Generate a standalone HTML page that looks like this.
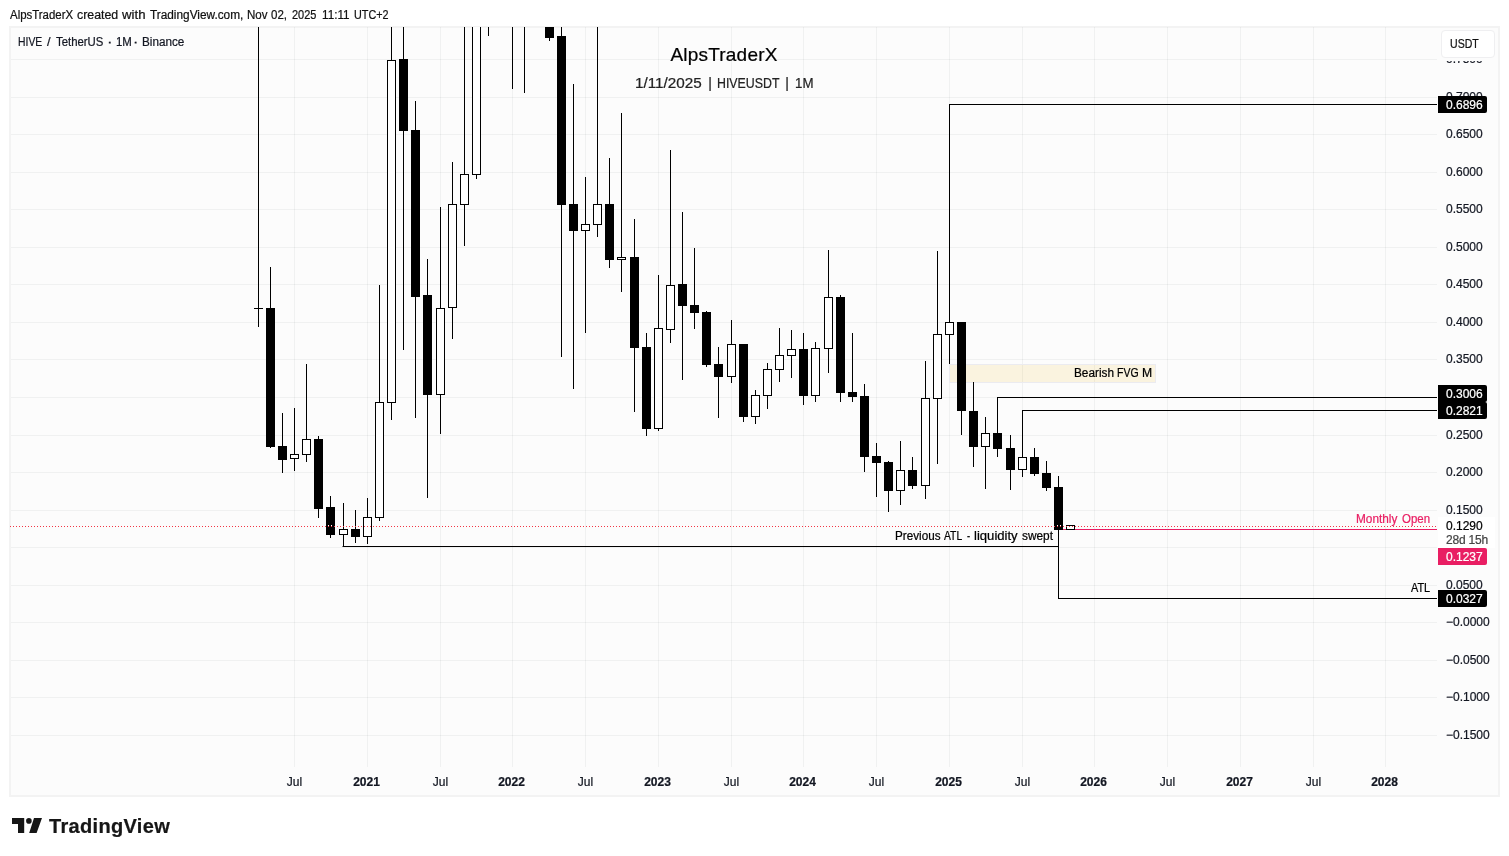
<!DOCTYPE html>
<html lang="en"><head><meta charset="utf-8"><title>HIVEUSDT 1M - AlpsTraderX</title>
<style>
html,body{margin:0;padding:0;background:#fff}
body{width:1509px;height:856px;position:relative;overflow:hidden;font-family:"Liberation Sans",sans-serif;font-size:12px;color:#131722;-webkit-text-stroke:0.22px currentColor}
#hdr{position:absolute;left:0;top:8px;height:14px;line-height:14px;white-space:nowrap;font-size:12px;color:#111;letter-spacing:0px}
#panel{position:absolute;left:9px;top:26px;width:1491px;height:771px;box-sizing:border-box;background:#fcfcfc;border:2px solid #f3f3f3}
#chart{position:absolute;left:0;top:0;width:1509px;height:856px;overflow:hidden}
#clip{position:absolute;left:11px;top:27px;width:1426px;height:740px;overflow:hidden}
#clip>div{position:absolute;left:-11px;top:-27px}
i{position:absolute;display:block}
.g{background:rgba(42,46,57,0.055)}
.k{background:#000}
.h{background:#fff;border:1px solid #000;box-sizing:border-box}
.pl{position:absolute;left:1446px;height:16px;line-height:16px;font-size:12px;white-space:nowrap;color:#131722}
.tl{position:absolute;top:774px;width:61px;text-align:center;height:16px;line-height:16px;font-size:12px;color:#131722;white-space:nowrap}
.tl.b{font-weight:bold;margin-left:-1px}
.tag{position:absolute;left:1438px;width:49px;height:17px;line-height:19px;overflow:hidden;box-sizing:border-box;padding-left:8px;color:#fff;background:#000;border-radius:0 2px 2px 0;font-size:12px;white-space:nowrap}
.txt{position:absolute;white-space:nowrap;line-height:14px;height:14px;font-size:12px;color:#000}
#legend{position:absolute;left:0;top:35px;height:14px;line-height:14px;font-size:12px;color:#131722;white-space:nowrap}
#usdt{position:absolute;left:1440.6px;top:30.4px;width:54.8px;height:27.2px;box-sizing:border-box;border:1px solid #efeff1;border-radius:4px;background:#fff;text-align:left;padding-left:8.6px;line-height:26.4px;font-size:12px;color:#111}
#usdt span{display:inline-block;transform:scaleX(0.88);transform-origin:0 50%}
#title{position:absolute;left:524px;width:400px;text-align:center;top:43px;height:24px;line-height:24px;font-size:19px;color:#000;white-space:nowrap;letter-spacing:0.2px}
#sub{position:absolute;left:0;top:75px;height:16px;line-height:16px;font-size:14px;color:#222;white-space:nowrap}
#sub span,.wl span{position:absolute;top:0;transform-origin:0 50%;white-space:nowrap}
#logo{position:absolute;left:12px;top:814px}
#tv{position:absolute;left:49px;top:813px;height:26px;line-height:26px;font-size:20px;font-weight:bold;color:#161616;white-space:nowrap;letter-spacing:0.33px}
</style></head><body>
<div id="hdr" class="wl"><span style="left:10.22px;transform:scaleX(0.953)">AlpsTraderX</span> <span style="left:77.08px;transform:scaleX(1.029)">created</span> <span style="left:122.15px;transform:scaleX(1.1)">with</span> <span style="left:149.51px;transform:scaleX(0.985)">TradingView.com,</span> <span style="left:247.04px;transform:scaleX(0.961)">Nov</span> <span style="left:271.31px;transform:scaleX(0.961)">02,</span> <span style="left:292.18px;transform:scaleX(0.913)">2025</span> <span style="left:321.52px;transform:scaleX(0.975)">11:11</span> <span style="left:353.8px;transform:scaleX(0.899)">UTC+2</span></div>
<div id="panel"></div>
<div id="chart">
<i class="g" style="left:11px;top:59px;width:1426px;height:1px"></i><i class="g" style="left:11px;top:97px;width:1426px;height:1px"></i><i class="g" style="left:11px;top:134px;width:1426px;height:1px"></i><i class="g" style="left:11px;top:172px;width:1426px;height:1px"></i><i class="g" style="left:11px;top:209px;width:1426px;height:1px"></i><i class="g" style="left:11px;top:247px;width:1426px;height:1px"></i><i class="g" style="left:11px;top:284px;width:1426px;height:1px"></i><i class="g" style="left:11px;top:322px;width:1426px;height:1px"></i><i class="g" style="left:11px;top:359px;width:1426px;height:1px"></i><i class="g" style="left:11px;top:397px;width:1426px;height:1px"></i><i class="g" style="left:11px;top:435px;width:1426px;height:1px"></i><i class="g" style="left:11px;top:472px;width:1426px;height:1px"></i><i class="g" style="left:11px;top:510px;width:1426px;height:1px"></i><i class="g" style="left:11px;top:547px;width:1426px;height:1px"></i><i class="g" style="left:11px;top:585px;width:1426px;height:1px"></i><i class="g" style="left:11px;top:622px;width:1426px;height:1px"></i><i class="g" style="left:11px;top:660px;width:1426px;height:1px"></i><i class="g" style="left:11px;top:697px;width:1426px;height:1px"></i><i class="g" style="left:11px;top:735px;width:1426px;height:1px"></i><i class="g" style="left:294px;top:27px;width:1px;height:740px"></i><i class="g" style="left:367px;top:27px;width:1px;height:740px"></i><i class="g" style="left:440px;top:27px;width:1px;height:740px"></i><i class="g" style="left:512px;top:27px;width:1px;height:740px"></i><i class="g" style="left:585px;top:27px;width:1px;height:740px"></i><i class="g" style="left:658px;top:27px;width:1px;height:740px"></i><i class="g" style="left:731px;top:27px;width:1px;height:740px"></i><i class="g" style="left:803px;top:27px;width:1px;height:740px"></i><i class="g" style="left:876px;top:27px;width:1px;height:740px"></i><i class="g" style="left:949px;top:27px;width:1px;height:740px"></i><i class="g" style="left:1022px;top:27px;width:1px;height:740px"></i><i class="g" style="left:1094px;top:27px;width:1px;height:740px"></i><i class="g" style="left:1167px;top:27px;width:1px;height:740px"></i><i class="g" style="left:1240px;top:27px;width:1px;height:740px"></i><i class="g" style="left:1313px;top:27px;width:1px;height:740px"></i><i class="g" style="left:1385px;top:27px;width:1px;height:740px"></i>
<i style="left:949px;top:364px;width:207px;height:19px;background:rgba(240,180,20,0.12);background-clip:padding-box;border:1px solid #ebebf0;box-sizing:border-box"></i>
<i style="left:1063px;top:529px;width:374px;height:1px;background:#e91e63"></i>
<div id="clip"><div>
<i class="k" style="left:258px;top:27px;width:1px;height:300px"></i>
<i class="k" style="left:254px;top:308px;width:9px;height:1px"></i>
<i class="k" style="left:270px;top:267px;width:1px;height:181px"></i>
<i class="k" style="left:266px;top:308px;width:9px;height:139px"></i>
<i class="k" style="left:282px;top:413px;width:1px;height:60px"></i>
<i class="k" style="left:278px;top:446px;width:9px;height:14px"></i>
<i class="k" style="left:294px;top:408px;width:1px;height:46px"></i>
<i class="k" style="left:294px;top:459px;width:1px;height:12px"></i>
<i class="h" style="left:290px;top:454px;width:9px;height:5px"></i>
<i class="k" style="left:306px;top:364px;width:1px;height:75px"></i>
<i class="k" style="left:306px;top:455px;width:1px;height:7px"></i>
<i class="h" style="left:302px;top:439px;width:9px;height:16px"></i>
<i class="k" style="left:318px;top:436px;width:1px;height:82px"></i>
<i class="k" style="left:314px;top:439px;width:9px;height:70px"></i>
<i class="k" style="left:330px;top:496px;width:1px;height:42px"></i>
<i class="k" style="left:326px;top:507px;width:9px;height:28px"></i>
<i class="k" style="left:343px;top:503px;width:1px;height:26px"></i>
<i class="k" style="left:343px;top:535px;width:1px;height:11px"></i>
<i class="h" style="left:339px;top:529px;width:9px;height:6px"></i>
<i class="k" style="left:355px;top:510px;width:1px;height:33px"></i>
<i class="k" style="left:351px;top:529px;width:9px;height:8px"></i>
<i class="k" style="left:367px;top:498px;width:1px;height:19px"></i>
<i class="k" style="left:367px;top:537px;width:1px;height:7px"></i>
<i class="h" style="left:363px;top:517px;width:9px;height:20px"></i>
<i class="k" style="left:379px;top:285px;width:1px;height:117px"></i>
<i class="k" style="left:379px;top:518px;width:1px;height:3px"></i>
<i class="h" style="left:375px;top:402px;width:9px;height:116px"></i>
<i class="k" style="left:391px;top:27px;width:1px;height:33px"></i>
<i class="k" style="left:391px;top:403px;width:1px;height:17px"></i>
<i class="h" style="left:387px;top:60px;width:9px;height:343px"></i>
<i class="k" style="left:403px;top:27px;width:1px;height:323px"></i>
<i class="k" style="left:399px;top:59px;width:9px;height:72px"></i>
<i class="k" style="left:415px;top:101px;width:1px;height:317px"></i>
<i class="k" style="left:411px;top:130px;width:9px;height:167px"></i>
<i class="k" style="left:427px;top:259px;width:1px;height:239px"></i>
<i class="k" style="left:423px;top:295px;width:9px;height:100px"></i>
<i class="k" style="left:440px;top:207px;width:1px;height:101px"></i>
<i class="k" style="left:440px;top:395px;width:1px;height:39px"></i>
<i class="h" style="left:436px;top:308px;width:9px;height:87px"></i>
<i class="k" style="left:452px;top:162px;width:1px;height:42px"></i>
<i class="k" style="left:452px;top:308px;width:1px;height:31px"></i>
<i class="h" style="left:448px;top:204px;width:9px;height:104px"></i>
<i class="k" style="left:464px;top:27px;width:1px;height:147px"></i>
<i class="k" style="left:464px;top:205px;width:1px;height:41px"></i>
<i class="h" style="left:460px;top:174px;width:9px;height:31px"></i>
<i class="k" style="left:476px;top:175px;width:1px;height:4px"></i>
<i class="h" style="left:472px;top:24px;width:9px;height:151px"></i>
<i class="k" style="left:488px;top:27px;width:1px;height:9px"></i>
<i class="k" style="left:512px;top:27px;width:1px;height:62px"></i>
<i class="k" style="left:524px;top:27px;width:1px;height:66px"></i>
<i class="k" style="left:549px;top:27px;width:1px;height:14px"></i>
<i class="k" style="left:545px;top:27px;width:9px;height:11px"></i>
<i class="k" style="left:561px;top:27px;width:1px;height:330px"></i>
<i class="k" style="left:557px;top:36px;width:9px;height:169px"></i>
<i class="k" style="left:573px;top:84px;width:1px;height:305px"></i>
<i class="k" style="left:569px;top:204px;width:9px;height:27px"></i>
<i class="k" style="left:585px;top:177px;width:1px;height:47px"></i>
<i class="k" style="left:585px;top:231px;width:1px;height:102px"></i>
<i class="h" style="left:581px;top:224px;width:9px;height:7px"></i>
<i class="k" style="left:597px;top:27px;width:1px;height:177px"></i>
<i class="k" style="left:597px;top:225px;width:1px;height:12px"></i>
<i class="h" style="left:593px;top:204px;width:9px;height:21px"></i>
<i class="k" style="left:609px;top:158px;width:1px;height:110px"></i>
<i class="k" style="left:605px;top:204px;width:9px;height:56px"></i>
<i class="k" style="left:621px;top:113px;width:1px;height:144px"></i>
<i class="k" style="left:621px;top:260px;width:1px;height:32px"></i>
<i class="h" style="left:617px;top:257px;width:9px;height:3px"></i>
<i class="k" style="left:634px;top:219px;width:1px;height:193px"></i>
<i class="k" style="left:630px;top:257px;width:9px;height:91px"></i>
<i class="k" style="left:646px;top:333px;width:1px;height:103px"></i>
<i class="k" style="left:642px;top:347px;width:9px;height:82px"></i>
<i class="k" style="left:658px;top:275px;width:1px;height:53px"></i>
<i class="k" style="left:658px;top:429px;width:1px;height:2px"></i>
<i class="h" style="left:654px;top:328px;width:9px;height:101px"></i>
<i class="k" style="left:670px;top:150px;width:1px;height:135px"></i>
<i class="k" style="left:670px;top:330px;width:1px;height:13px"></i>
<i class="h" style="left:666px;top:285px;width:9px;height:45px"></i>
<i class="k" style="left:682px;top:212px;width:1px;height:168px"></i>
<i class="k" style="left:678px;top:284px;width:9px;height:22px"></i>
<i class="k" style="left:694px;top:248px;width:1px;height:81px"></i>
<i class="k" style="left:690px;top:305px;width:9px;height:8px"></i>
<i class="k" style="left:706px;top:311px;width:1px;height:56px"></i>
<i class="k" style="left:702px;top:312px;width:9px;height:53px"></i>
<i class="k" style="left:718px;top:347px;width:1px;height:71px"></i>
<i class="k" style="left:714px;top:364px;width:9px;height:13px"></i>
<i class="k" style="left:731px;top:320px;width:1px;height:24px"></i>
<i class="k" style="left:731px;top:377px;width:1px;height:6px"></i>
<i class="h" style="left:727px;top:344px;width:9px;height:33px"></i>
<i class="k" style="left:743px;top:344px;width:1px;height:78px"></i>
<i class="k" style="left:739px;top:344px;width:9px;height:73px"></i>
<i class="k" style="left:755px;top:390px;width:1px;height:5px"></i>
<i class="k" style="left:755px;top:417px;width:1px;height:7px"></i>
<i class="h" style="left:751px;top:395px;width:9px;height:22px"></i>
<i class="k" style="left:767px;top:363px;width:1px;height:6px"></i>
<i class="k" style="left:767px;top:396px;width:1px;height:13px"></i>
<i class="h" style="left:763px;top:369px;width:9px;height:27px"></i>
<i class="k" style="left:779px;top:328px;width:1px;height:27px"></i>
<i class="k" style="left:779px;top:370px;width:1px;height:12px"></i>
<i class="h" style="left:775px;top:355px;width:9px;height:15px"></i>
<i class="k" style="left:791px;top:330px;width:1px;height:19px"></i>
<i class="k" style="left:791px;top:356px;width:1px;height:22px"></i>
<i class="h" style="left:787px;top:349px;width:9px;height:7px"></i>
<i class="k" style="left:803px;top:333px;width:1px;height:72px"></i>
<i class="k" style="left:799px;top:349px;width:9px;height:47px"></i>
<i class="k" style="left:815px;top:342px;width:1px;height:6px"></i>
<i class="k" style="left:815px;top:396px;width:1px;height:6px"></i>
<i class="h" style="left:811px;top:348px;width:9px;height:48px"></i>
<i class="k" style="left:828px;top:250px;width:1px;height:47px"></i>
<i class="k" style="left:828px;top:349px;width:1px;height:24px"></i>
<i class="h" style="left:824px;top:297px;width:9px;height:52px"></i>
<i class="k" style="left:840px;top:295px;width:1px;height:107px"></i>
<i class="k" style="left:836px;top:297px;width:9px;height:96px"></i>
<i class="k" style="left:852px;top:333px;width:1px;height:69px"></i>
<i class="k" style="left:848px;top:392px;width:9px;height:5px"></i>
<i class="k" style="left:864px;top:384px;width:1px;height:88px"></i>
<i class="k" style="left:860px;top:396px;width:9px;height:61px"></i>
<i class="k" style="left:876px;top:443px;width:1px;height:54px"></i>
<i class="k" style="left:872px;top:456px;width:9px;height:7px"></i>
<i class="k" style="left:888px;top:461px;width:1px;height:51px"></i>
<i class="k" style="left:884px;top:462px;width:9px;height:29px"></i>
<i class="k" style="left:900px;top:441px;width:1px;height:29px"></i>
<i class="k" style="left:900px;top:491px;width:1px;height:14px"></i>
<i class="h" style="left:896px;top:470px;width:9px;height:21px"></i>
<i class="k" style="left:912px;top:457px;width:1px;height:32px"></i>
<i class="k" style="left:908px;top:470px;width:9px;height:16px"></i>
<i class="k" style="left:925px;top:361px;width:1px;height:37px"></i>
<i class="k" style="left:925px;top:486px;width:1px;height:13px"></i>
<i class="h" style="left:921px;top:398px;width:9px;height:88px"></i>
<i class="k" style="left:937px;top:251px;width:1px;height:83px"></i>
<i class="k" style="left:937px;top:399px;width:1px;height:65px"></i>
<i class="h" style="left:933px;top:334px;width:9px;height:65px"></i>
<i class="k" style="left:949px;top:104px;width:1px;height:218px"></i>
<i class="k" style="left:949px;top:335px;width:1px;height:29px"></i>
<i class="h" style="left:945px;top:322px;width:9px;height:13px"></i>
<i class="k" style="left:961px;top:322px;width:1px;height:113px"></i>
<i class="k" style="left:957px;top:322px;width:9px;height:89px"></i>
<i class="k" style="left:973px;top:382px;width:1px;height:85px"></i>
<i class="k" style="left:969px;top:411px;width:9px;height:36px"></i>
<i class="k" style="left:985px;top:417px;width:1px;height:16px"></i>
<i class="k" style="left:985px;top:447px;width:1px;height:42px"></i>
<i class="h" style="left:981px;top:433px;width:9px;height:14px"></i>
<i class="k" style="left:997px;top:397px;width:1px;height:60px"></i>
<i class="k" style="left:993px;top:433px;width:9px;height:16px"></i>
<i class="k" style="left:1010px;top:435px;width:1px;height:55px"></i>
<i class="k" style="left:1006px;top:448px;width:9px;height:22px"></i>
<i class="k" style="left:1022px;top:410px;width:1px;height:47px"></i>
<i class="k" style="left:1022px;top:470px;width:1px;height:7px"></i>
<i class="h" style="left:1018px;top:457px;width:9px;height:13px"></i>
<i class="k" style="left:1034px;top:448px;width:1px;height:28px"></i>
<i class="k" style="left:1030px;top:457px;width:9px;height:17px"></i>
<i class="k" style="left:1046px;top:461px;width:1px;height:30px"></i>
<i class="k" style="left:1042px;top:473px;width:9px;height:15px"></i>
<i class="k" style="left:1058px;top:476px;width:1px;height:122px"></i>
<i class="k" style="left:1054px;top:487px;width:9px;height:43px"></i>
<i class="h" style="left:1066px;top:525px;width:9px;height:5px"></i>
</div></div>
<i class="k" style="left:949px;top:104px;width:488px;height:1px"></i>
<i class="k" style="left:997px;top:397px;width:440px;height:1px"></i>
<i class="k" style="left:1022px;top:410px;width:415px;height:1px"></i>
<i class="k" style="left:343px;top:546px;width:716px;height:1px"></i><i style="left:342px;top:546px;width:1px;height:1px;background:#858585"></i>
<i class="k" style="left:1058px;top:598px;width:379px;height:1px"></i>
<i style="left:10px;top:526px;width:1427px;height:1px;background:repeating-linear-gradient(90deg,#f23645 0,#f23645 1px,transparent 1px,transparent 3px)"></i>
<i style="left:328px;top:525px;width:1px;height:1px;background:#fff"></i><i style="left:331px;top:525px;width:1px;height:1px;background:#fff"></i><i style="left:1057px;top:525px;width:1px;height:1px;background:#fff"></i><i style="left:1060px;top:525px;width:1px;height:1px;background:#fff"></i>
<span class="txt wl" style="left:0;top:366px"><span style="left:1074.02px;transform:scaleX(0.982)">Bearish</span> <span style="left:1116.63px;transform:scaleX(0.874)">FVG</span> <span style="left:1141.79px;transform:scaleX(1.013)">M</span></span>
<span class="txt wl" style="left:0;top:529px"><span style="left:894.93px;transform:scaleX(0.974)">Previous</span> <span style="left:943.82px;transform:scaleX(0.859)">ATL</span> <span style="left:967.34px;transform:scaleX(0.778)">-</span> <span style="left:973.74px;transform:scaleX(1.091)">liquidity</span> <span style="left:1022.38px;transform:scaleX(0.988)">swept</span></span>
<span class="txt wl" style="left:0;top:512px;color:#e91e63"><span style="left:1356.32px;transform:scaleX(0.985)">Monthly</span> <span style="left:1402.18px;transform:scaleX(0.954)">Open</span></span>
<span class="txt wl" style="left:0;top:581px"><span style="left:1410.92px;transform:scaleX(0.907)">ATL</span></span>
<span class="pl" style="top:51px">0.7500</span> <span class="pl" style="top:89px">0.7000</span> <span class="pl" style="top:126px">0.6500</span> <span class="pl" style="top:164px">0.6000</span> <span class="pl" style="top:201px">0.5500</span> <span class="pl" style="top:239px">0.5000</span> <span class="pl" style="top:276px">0.4500</span> <span class="pl" style="top:314px">0.4000</span> <span class="pl" style="top:351px">0.3500</span> <span class="pl" style="top:389px">0.3000</span> <span class="pl" style="top:427px">0.2500</span> <span class="pl" style="top:464px">0.2000</span> <span class="pl" style="top:502px">0.1500</span> <span class="pl" style="top:539px">0.1000</span> <span class="pl" style="top:577px">0.0500</span> <span class="pl" style="top:614px">−0.0000</span> <span class="pl" style="top:652px">−0.0500</span> <span class="pl" style="top:689px">−0.1000</span> <span class="pl" style="top:727px">−0.1500</span>
<span class="tl" style="left:264px">Jul</span> <span class="tl b" style="left:337px">2021</span> <span class="tl" style="left:410px">Jul</span> <span class="tl b" style="left:482px">2022</span> <span class="tl" style="left:555px">Jul</span> <span class="tl b" style="left:628px">2023</span> <span class="tl" style="left:701px">Jul</span> <span class="tl b" style="left:773px">2024</span> <span class="tl" style="left:846px">Jul</span> <span class="tl b" style="left:919px">2025</span> <span class="tl" style="left:992px">Jul</span> <span class="tl b" style="left:1064px">2026</span> <span class="tl" style="left:1137px">Jul</span> <span class="tl b" style="left:1210px">2027</span> <span class="tl" style="left:1283px">Jul</span> <span class="tl b" style="left:1355px">2028</span>
<span class="tag" style="top:96px">0.6896</span>
<span class="tag" style="top:385px">0.3006</span>
<span class="tag" style="top:402px">0.2821</span>
<i style="left:1438px;top:517px;width:57px;height:31px;background:#fff"></i>
<span class="pl" style="top:518px;color:#000">0.1290</span>
<span class="pl" style="top:532px;color:#444;letter-spacing:-0.2px">28d 15h</span>
<span class="tag" style="top:548px;background:#e91e63">0.1237</span>
<span class="tag" style="top:590px">0.0327</span>
<div id="legend" class="wl"><span style="left:17.73px;transform:scaleX(0.865)">HIVE</span> <span style="left:47.44px;transform:scaleX(1.068)">/</span> <span style="left:56.32px;transform:scaleX(0.948)">TetherUS</span> <span style="left:107.07px;transform:scaleX(1.39)">·</span> <span style="left:115.75px;transform:scaleX(0.953)">1M</span> <span style="left:133.34px;transform:scaleX(1.329)">·</span> <span style="left:141.92px;transform:scaleX(0.977)">Binance</span></div>
<i style="left:1438px;top:28px;width:60px;height:33px;background:#fcfcfc"></i>
<div id="usdt"><span>USDT</span></div>
<div id="title">AlpsTraderX</div>
<div id="sub"><span style="left:635.3px;transform:scaleX(1.09)">1/11/2025</span> <span style="left:708.2px">|</span> <span style="left:717px;transform:scaleX(0.883)">HIVEUSDT</span> <span style="left:785.2px">|</span> <span style="left:794.8px;transform:scaleX(0.95)">1M</span></div>
</div>
<svg id="logo" width="36" height="24" viewBox="0 0 36 24"><path fill="#161616" d="M0 4h12.2v15H6V10H0zM22 4h8L24.6 19h-7.4z"/><circle fill="#161616" cx="16.9" cy="6.9" r="2.8"/></svg>
<div id="tv">TradingView</div>
</body></html>
